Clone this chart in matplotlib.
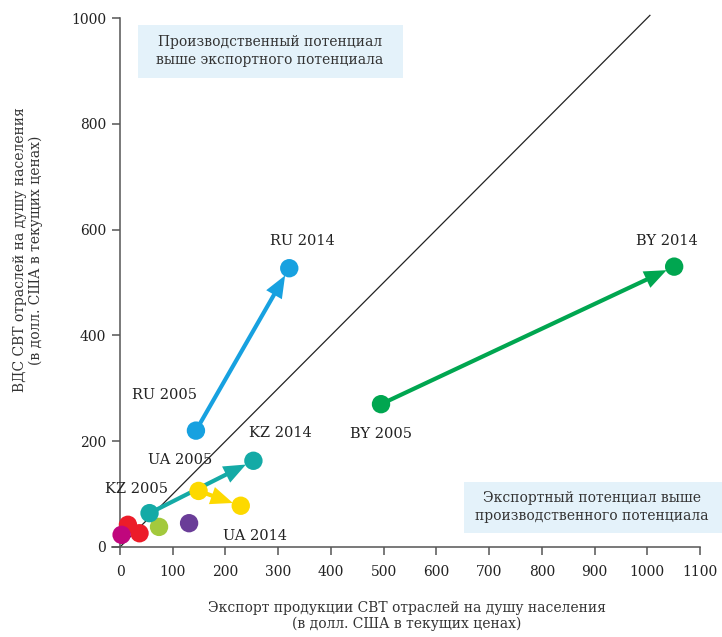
import matplotlib
matplotlib.use("Agg")
import matplotlib.pyplot as plt
from matplotlib.patches import FancyArrowPatch, Rectangle

plt.rcParams['font.family'] = ['DejaVu Serif']

# ---- data ----
countries = ["RU", "BY", "KZ", "UA"]
export_2005 = [144, 495, 56, 149]
gva_2005 = [220, 270, 64, 106]
export_2014 = [321, 1051, 253, 229]
gva_2014 = [527, 530, 163, 78]
country_colors = ["#17a1e0", "#00a650", "#14aaa6", "#fdd900"]

# other countries (unlabelled points)
other_export = [131, 74, 15, 37, 3]
other_gva = [45, 38, 42, 26, 23]
other_colors = ["#6a3d98", "#a3c93d", "#ec1c29", "#ec1c29", "#c0077d"]

x_ticks = [0, 100, 200, 300, 400, 500, 600, 700, 800, 900, 1000, 1100]
y_ticks = [0, 200, 400, 600, 800, 1000]

xlabel = "Экспорт продукции СВТ отраслей на душу населения\n(в долл. США в текущих ценах)"
ylabel = "ВДС СВТ отраслей на душу населения\n(в долл. США в текущих ценах)"
box_top = "Производственный потенциал\nвыше экспортного потенциала"
box_bottom = "Экспортный потенциал выше\nпроизводственного потенциала"

W, H = 722, 637
fig = plt.figure(figsize=(W / 100, H / 100), dpi=100)
ax = fig.add_axes([112 / W, 1 - 547 / H, (700 - 112) / W, (547 - 18) / H])
ax.set_xlim(-15.2, 1100)
ax.set_ylim(0, 1000)

for s in ["top", "right"]:
    ax.spines[s].set_visible(False)
ax.spines["left"].set_position(("data", 0))
for s in ["left", "bottom"]:
    ax.spines[s].set_color("#555555")
    ax.spines[s].set_linewidth(1.1)
ax.set_xticks(x_ticks)
ax.set_yticks(y_ticks)
ax.tick_params(axis="both", direction="out", length=6, width=1.1, color="#555555",
               labelsize=10, labelcolor="#222222")
ax.tick_params(axis="x", pad=7)
ax.tick_params(axis="y", pad=4)

# diagonal y = x
ax.plot([0, 1005], [0, 1005], color="#222222", lw=0.9, zorder=1, clip_on=False)

# arrows
for i in range(len(countries)):
    arr = FancyArrowPatch((export_2005[i], gva_2005[i]), (export_2014[i], gva_2014[i]),
                          arrowstyle="simple,head_length=1.6,head_width=1.3,tail_width=0.3",
                          mutation_scale=10, lw=0, color=country_colors[i],
                          shrinkA=0, shrinkB=6, zorder=2)
    ax.add_patch(arr)

# points
ax.scatter(other_export, other_gva, s=175, c=other_colors, zorder=3, linewidths=0)
ax.scatter(export_2005, gva_2005, s=175, c=country_colors, zorder=4, linewidths=0)
ax.scatter(export_2014, gva_2014, s=175, c=country_colors, zorder=4, linewidths=0)

# labels
label_text = ["RU 2014", "RU 2005", "BY 2014", "BY 2005", "KZ 2014", "UA 2005", "KZ 2005", "UA 2014"]
label_pos = [(345, 578), (85, 287), (1038, 578), (495, 214), (305, 215), (114, 164), (32, 110), (256, 21)]
for t, (lx, ly) in zip(label_text, label_pos):
    ax.text(lx, ly, t, fontsize=10.5, ha="center", va="center", color="#222222", zorder=5)

# shaded note boxes
fig.patches.append(Rectangle((138 / W, 1 - 78 / H), (403 - 138) / W, (78 - 25) / H,
                             transform=fig.transFigure, facecolor="#e4f2fa", edgecolor="none", zorder=0))
fig.text(270 / W, 1 - 51 / H, box_top, ha="center", va="center", fontsize=10,
         color="#333333", linespacing=1.3)
fig.patches.append(Rectangle((464 / W, 1 - 533 / H), (722 - 464) / W, (533 - 482) / H,
                             transform=fig.transFigure, facecolor="#e4f2fa", edgecolor="none", zorder=0))
fig.text(592 / W, 1 - 507 / H, box_bottom, ha="center", va="center", fontsize=10,
         color="#333333", linespacing=1.3)

# axis titles
fig.text(407 / W, 1 - 616 / H, xlabel, ha="center", va="center", fontsize=10,
         color="#333333", linespacing=1.15)
fig.text(28 / W, 1 - 250 / H, ylabel, ha="center", va="center", rotation=90, fontsize=10,
         color="#333333", linespacing=1.15)

fig.savefig("out.png", dpi=100)
